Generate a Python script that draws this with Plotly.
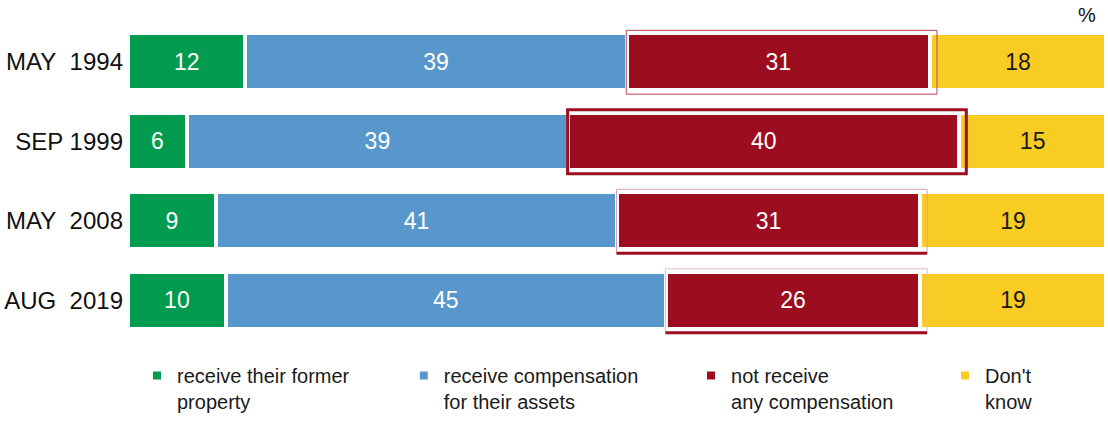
import plotly.graph_objects as go

# Survey waves (top to bottom)
periods = ["MAY\u00a0\u00a01994", "SEP 1999", "MAY\u00a0\u00a02008", "AUG\u00a0\u00a02019"]

# Share of answers, %
former_property = [12, 6, 9, 10]
compensation = [39, 39, 41, 45]
no_compensation = [31, 40, 31, 26]
dont_know = [18, 15, 19, 19]

series_names = [
    "receive their former<br>property",
    "receive compensation<br>for their assets",
    "not receive<br>any compensation",
    "Don't<br>know",
]
series_values = [former_property, compensation, no_compensation, dont_know]
series_colors = ["#009B4E", "#5897CB", "#9C0D1F", "#F8CC22"]
label_colors = ["white", "white", "white", "#1a1a1a"]
legend_ids = ["legend", "legend2", "legend3", "legend4"]
legend_x = [0.0092, 0.282, 0.5757, 0.8354]

# Highlight frames around the "not receive" segments
frame_width = [1, 3, 1, 1]
frame_color = ["#c04255", "#9C0D1F", "#d7a3ac", "#e2bcc3"]
frame_bottom = [None, None, "#9C0D1F", "#9C0D1F"]

W, H = 1108, 421
ML, MR, MT, MB = 128, 2, 22, 81
plot_w = W - ML - MR
plot_h = H - MT - MB
ux = 100 / plot_w                 # data units per pixel (x)
uy = 1 / (plot_h / len(periods))  # category units per pixel (y)

font = "Liberation Sans, Arial, sans-serif"

fig = go.Figure()
for name, vals, col, lcol, lid in zip(series_names, series_values, series_colors,
                                      label_colors, legend_ids):
    fig.add_trace(go.Bar(
        y=periods, x=vals, name=name, orientation="h",
        marker=dict(color=col, line=dict(color="white", width=4)),
        text=vals, texttemplate="%{text}", textposition="inside",
        insidetextanchor="middle", textangle=0,
        textfont=dict(family=font, size=23, color=lcol),
        hoverinfo="skip", legend=lid,
    ))

# frames drawn from the segment extents
shapes = []
bar_half = 0.5 * (1 - 0.285) - 2 * uy
for i in range(len(periods)):
    left = former_property[i] + compensation[i]
    right = left + no_compensation[i]
    x0 = left - 0.5 * ux
    x1 = right + 7 * ux
    y0 = i - bar_half - 5 * uy
    y1 = i + bar_half + 6 * uy
    shapes.append(dict(type="rect", xref="x", yref="y", x0=x0, x1=x1, y0=y0, y1=y1,
                       line=dict(color=frame_color[i], width=frame_width[i]),
                       fillcolor="rgba(0,0,0,0)", layer="above"))
    if frame_bottom[i]:
        shapes.append(dict(type="line", xref="x", yref="y", x0=x0, x1=x1, y0=y1, y1=y1,
                           line=dict(color=frame_bottom[i], width=3), layer="above"))

layout_legends = {}
for lid, lx in zip(legend_ids, legend_x):
    layout_legends[lid] = dict(
        x=lx, y=-0.012, xanchor="left", yanchor="bottom", yref="container",
        orientation="h", valign="top", bgcolor="rgba(0,0,0,0)", borderwidth=0,
        font=dict(family=font, size=20, color="#1a1a1a"),
    )

fig.update_layout(
    width=W, height=H, barmode="stack", bargap=0.285,
    margin=dict(l=ML, r=MR, t=MT, b=MB, pad=0),
    paper_bgcolor="white", plot_bgcolor="white",
    xaxis=dict(visible=False, range=[0, 100], fixedrange=True),
    yaxis=dict(autorange="reversed", showgrid=False, showline=False, zeroline=False,
               ticks="", ticklabelstandoff=4,
               tickfont=dict(family=font, size=24, color="#111111")),
    shapes=shapes,
    annotations=[dict(text="%", xref="paper", yref="paper", x=0.9806, y=1.021,
                      xanchor="center", yanchor="middle", showarrow=False,
                      font=dict(family=font, size=20, color="#111111"))],
    showlegend=True,
    **layout_legends,
)

fig.write_html("out.html")
